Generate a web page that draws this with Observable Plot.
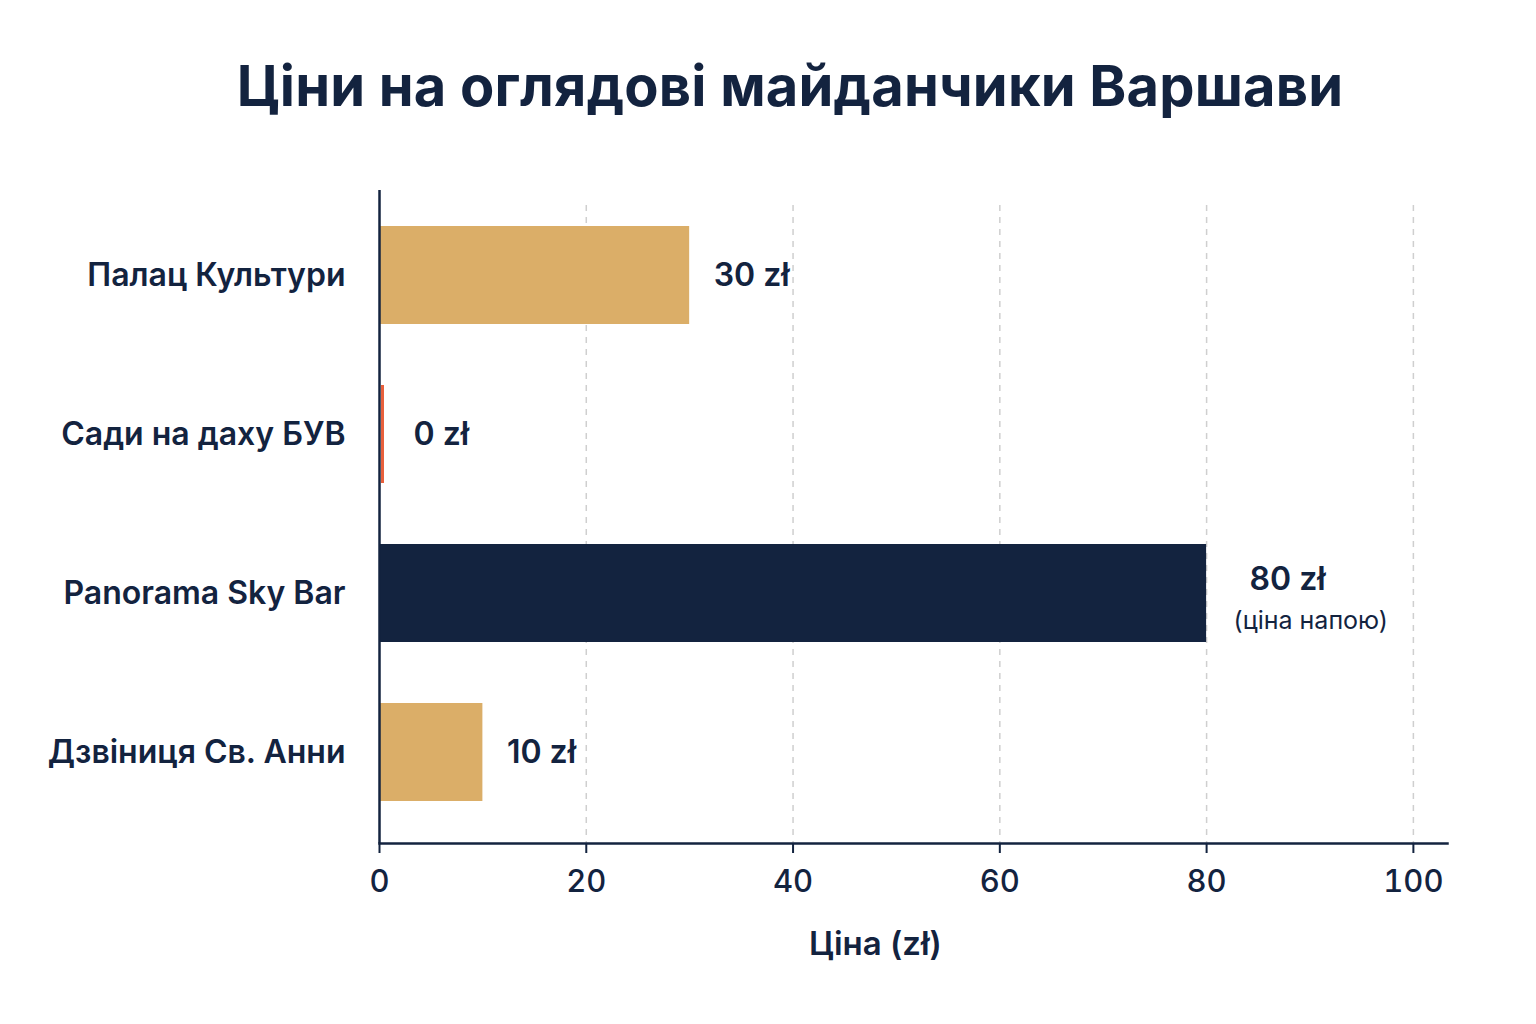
<!DOCTYPE html>
<html>
<head>
<meta charset="utf-8">
<script src="https://cdn.jsdelivr.net/npm/d3@7"></script>
<script src="https://cdn.jsdelivr.net/npm/@observablehq/plot@0.6"></script>
<style>
  html, body { margin: 0; padding: 0; background: #ffffff; }
  body { width: 1536px; height: 1024px; overflow: hidden; font-family: Inter, "Noto Sans", sans-serif; }
  #title {
    height: 170px; box-sizing: border-box; padding-top: 58px; padding-left: 44px;
    text-align: center; font-size: 56px; font-weight: 700; color: #13233F; line-height: 1;
    letter-spacing: 0.2px;
  }
  #chart svg { display: block; }
</style>
</head>
<body>
<div id="title">Ціни на оглядові майданчики Варшави</div>
<div id="chart"></div>
<script>
const places = ["Палац Культури", "Сади на даху БУВ", "Panorama Sky Bar", "Дзвіниця Св. Анни"];
const prices = [30, 0, 80, 10];
const kinds = ["ticket", "free", "drink", "ticket"];
const priceLabels = ["30 zł", "0 zł", "80 zł", "10 zł"];
const notes = ["", "", "(ціна напою)", ""];
const xTicks = [0, 20, 40, 60, 80, 100];
const xTitle = "Ціна (zł)";

const navy = "#13233F";
const colorFor = {ticket: "#DBAE68", free: "#E8603C", drink: "#13233F"};

const data = places.map((p, i) => ({place: p, price: prices[i], kind: kinds[i], label: priceLabels[i], note: notes[i]}));
const nonZero = data.filter(d => d.price > 0);
const zero = data.filter(d => d.price === 0);
const withNote = data.filter(d => d.note);
const plainBars = data.filter(d => !d.note && d.price > 0);

const chart = Plot.plot({
  width: 1536,
  height: 854,
  marginLeft: 379,
  marginRight: 89,
  marginTop: 20,
  marginBottom: 181,
  style: {fontFamily: "Inter, 'Noto Sans', sans-serif", color: navy, background: "#ffffff"},
  x: {domain: [0, 103.3]},
  y: {domain: places, range: [24, 663], paddingInner: 0.386, paddingOuter: 0.193},
  marks: [
    Plot.ruleX(xTicks.filter(t => t > 0), {stroke: "#cfcfcf", strokeWidth: 1.5, strokeDasharray: "6,6", insetTop: 15}),
    Plot.barX(nonZero, {x: "price", y: "place", fill: d => colorFor[d.kind]}),
    Plot.tickX(zero, {x: "price", y: "place", stroke: d => colorFor[d.kind], strokeWidth: 3, dx: 3}),
    Plot.text(plainBars, {x: "price", y: "place", text: "label", textAnchor: "start", dx: 24, fontSize: 32, fontWeight: 600, fill: navy}),
    Plot.text(zero, {x: "price", y: "place", text: "label", textAnchor: "start", dx: 34, fontSize: 32, fontWeight: 600, fill: navy}),
    Plot.text(withNote, {x: "price", y: "place", text: "label", textAnchor: "start", dx: 43, dy: -14, fontSize: 32, fontWeight: 600, fill: navy}),
    Plot.text(withNote, {x: "price", y: "place", text: "note", textAnchor: "start", dx: 27, dy: 27, fontSize: 25, fontWeight: 400, fill: navy}),
    Plot.ruleX([0], {stroke: navy, strokeWidth: 2.5}),
    Plot.frame({anchor: "bottom", stroke: navy, strokeWidth: 2.5}),
    Plot.axisY({tickSize: 0, tickPadding: 34, fontSize: 32, fontWeight: 600, fill: navy, label: null}),
    Plot.axisX({ticks: xTicks, tickSize: 10, tickPadding: 16, fontSize: 31, fontWeight: 500, fill: navy, stroke: navy, strokeWidth: 2, label: null}),
    Plot.text([xTitle], {text: d => d, frameAnchor: "bottom", dx: -38, dy: 111, fontSize: 33, fontWeight: 600, fill: navy})
  ]
});
document.getElementById("chart").appendChild(chart);
</script>
</body>
</html>
